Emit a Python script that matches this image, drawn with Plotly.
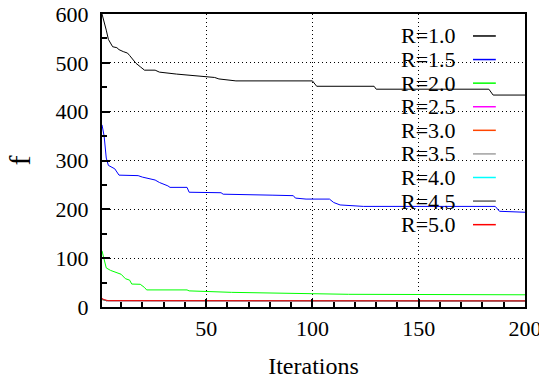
import plotly.graph_objects as go

# ---- data ----
series_names = ["R=1.0", "R=1.5", "R=2.0", "R=2.5", "R=3.0", "R=3.5", "R=4.0", "R=4.5", "R=5.0"]
series_colors = ["#000000", "#0000ff", "#00ff00", "#ff00ff", "#ff4500", "#a0a0a0", "#00ffff", "#606060", "#ff0000"]

r10_x = [1, 2, 3, 4, 5, 6, 8, 9, 11, 13, 14, 15, 17, 19, 21, 26, 28, 36, 44, 47, 54, 56, 62, 64, 100, 102, 129, 130, 183, 185, 200]
r10_y = [600, 585, 567, 548, 540, 533, 531, 527, 523, 520, 515, 509, 499, 492, 485, 485, 481, 477, 474, 472, 470, 467, 465, 463, 463, 452, 452, 446, 446, 434, 434]

r15_x = [1, 2, 3, 4, 7, 9, 18, 20, 26, 28, 32, 33, 41, 42, 57, 58, 81, 91, 92, 96, 97, 108, 110, 113, 123, 124, 186, 188, 200]
r15_y = [373, 350, 305, 290, 283, 270, 269, 266, 260, 255, 248, 245, 245, 235, 234, 231, 229, 228, 223, 222, 221, 221, 214, 209, 207, 206, 206, 196, 194]

r20_x = [1, 2, 3, 5, 7, 9, 10, 12, 13, 14, 15, 19, 21, 22, 41, 42, 62, 87, 117, 200]
r20_y = [115, 95, 80, 75, 72, 69, 67, 58, 56, 55, 47, 46.5, 40, 35, 35, 33, 30, 28, 26, 25]

r25_x = [1, 3, 200]
r25_y = [16, 13, 12.5]
r30_x = [1, 3, 200]
r30_y = [15, 13, 12.5]
r35_x = [1, 3, 200]
r35_y = [16.5, 13, 12.5]
r40_x = [1, 3, 200]
r40_y = [15.5, 13, 12.5]
r45_x = [1, 3, 200]
r45_y = [16, 13, 12.5]
r50_x = [1, 2, 4, 200]
r50_y = [17.5, 15, 13, 12.5]

xs = [r10_x, r15_x, r20_x, r25_x, r30_x, r35_x, r40_x, r45_x, r50_x]
ys = [r10_y, r15_y, r20_y, r25_y, r30_y, r35_y, r40_y, r45_y, r50_y]

FONT = "Liberation Serif"

fig = go.Figure()
for name, color, x, y in zip(series_names, series_colors, xs, ys):
    fig.add_trace(go.Scatter(x=x, y=y, mode="lines", name=name,
                             line=dict(color=color, width=1), showlegend=False))

# gnuplot-style legend: text then sample line on the right
shapes = [dict(type="rect", xref="paper", yref="paper", x0=0.676, x1=0.957, y0=0.235, y1=0.966,
               fillcolor="white", line=dict(width=0), layer="between")]
annotations = []
y_top, y_step = 0.925, 0.0805
for i, (name, color) in enumerate(zip(series_names, series_colors)):
    yy = y_top - i * y_step
    annotations.append(dict(xref="paper", yref="paper", x=0.841, y=yy, text=name, showarrow=False,
                            xanchor="right", yanchor="middle",
                            font=dict(family=FONT, size=22, color="black")))
    shapes.append(dict(type="line", xref="paper", yref="paper", x0=0.877, x1=0.931, y0=yy, y1=yy,
                       line=dict(color=color, width=1.5), layer="above"))

# y-axis title (placed as an annotation so it can sit close to the page edge)
annotations.append(dict(xref="paper", yref="paper", x=-0.196, y=0.5, text="f", showarrow=False,
                        textangle=-90, xanchor="center", yanchor="middle",
                        font=dict(family=FONT, size=30, color="black")))


def axis_style():
    return dict(showline=True, linecolor="black", linewidth=2, mirror=True,
                ticks="inside", tickcolor="black", tickwidth=1.5, ticklen=8,
                showgrid=True, gridcolor="black", gridwidth=1, griddash="1px,3px",
                zeroline=False, automargin=False, ticklabeloverflow="allow",
                tickfont=dict(family=FONT, size=22, color="black"))


fig.update_layout(
    width=547, height=383,
    margin=dict(l=94, r=30, t=6, b=84),
    paper_bgcolor="white", plot_bgcolor="white",
    showlegend=False,
    font=dict(family=FONT, color="black", size=22),
    shapes=shapes, annotations=annotations,
    xaxis=dict(range=[1, 200], tick0=0, dtick=50, ticklabelstandoff=1,
               minor=dict(tick0=0, dtick=10, ticks="inside", ticklen=5, tickcolor="black", tickwidth=1.5, showgrid=False),
               title=dict(text="Iterations", font=dict(family=FONT, size=24, color="black"), standoff=17),
               **axis_style()),
    yaxis=dict(range=[0, 600], tick0=0, dtick=100, ticklabelstandoff=7,
               minor=dict(tick0=0, dtick=50, ticks="inside", ticklen=5, tickcolor="black", tickwidth=1.5, showgrid=False),
               **axis_style()),
)

fig.write_html("out.html")
